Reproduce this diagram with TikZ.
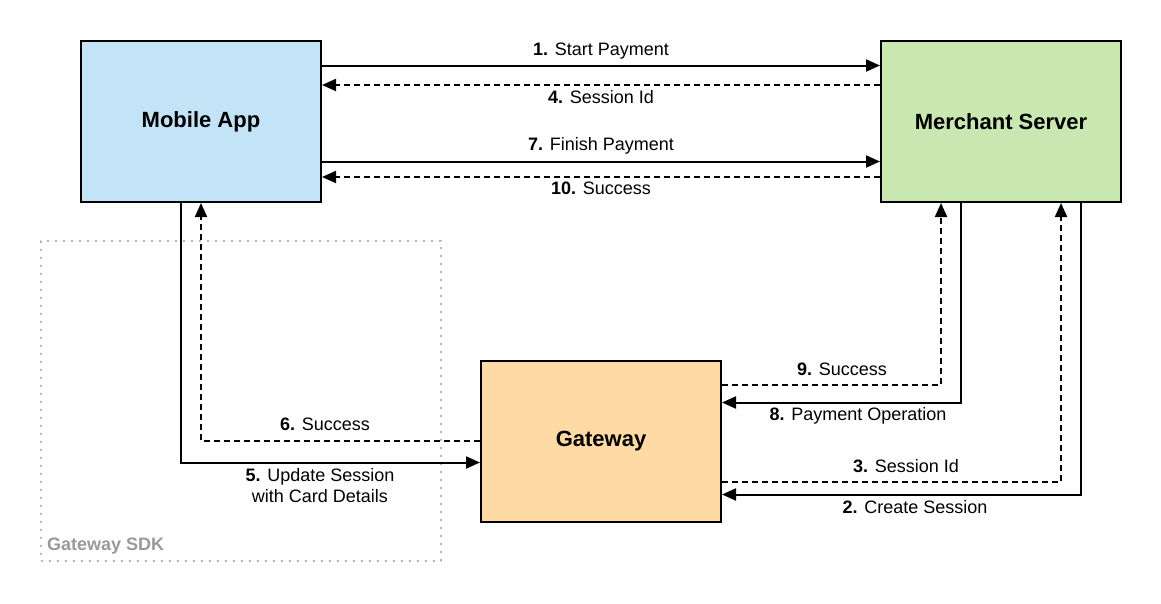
\documentclass[tikz,border=0pt]{standalone}
\usepackage{fontspec}
\setmainfont{Liberation Sans}
\usepackage{tikz}
\usetikzlibrary{arrows.meta}
\usetikzlibrary{calc}
\definecolor{appblue}{HTML}{C2E4F6}
\definecolor{servergreen}{HTML}{C9E7B0}
\definecolor{gwayorange}{HTML}{FFDAA5}
\definecolor{sdkgray}{HTML}{999999}
\tikzset{box/.style={draw, line width=2pt, minimum width=240pt, minimum height=161pt, font=\fontsize{22}{22}\selectfont\bfseries}}
\tikzset{l/.style={anchor=base, inner sep=0pt, font=\fontsize{18}{21}\selectfont}}
\tikzset{msg/.style={line width=2pt, -{Triangle[length=14pt,width=12pt]}}}
\tikzset{rsp/.style={msg, dash pattern=on 6pt off 4pt}}

\begin{document}
\begin{tikzpicture}[x=1pt, y=-1pt]
        \useasboundingbox (0,0) rectangle (1161,603);
        % sdk area
        \node (sdk) at (241,401) [draw=sdkgray!70, line width=2pt, dash pattern=on 2pt off 6pt,
          minimum width=400pt, minimum height=320pt] {};
        \node (sdklabel) at (47,550.7) [l, anchor=base west, text=sdkgray, font=\fontsize{18}{18}\selectfont\bfseries] {Gateway SDK};

        \node (app) at (201,121.5) [box, fill=appblue] {Mobile App};
        \node (server) at (1001,121.5) [box, fill=servergreen] {Merchant Server};
        \node (gway) at (601,441.5) [box, fill=gwayorange] {Gateway};

        % app <-> server
        \draw [msg] (app.east |- 0,65.5) -- (server.west |- 0,65.5);
        \node (l1) at (601,55.5) [l] {\textbf{1.} Start Payment};
        \draw [rsp] (server.west |- 0,85) -- (app.east |- 0,85);
        \node (l4) at (601,103) [l] {\textbf{4.} Session Id};
        \draw [msg] (app.east |- 0,161.5) -- (server.west |- 0,161.5);
        \node (l7) at (601,150.5) [l] {\textbf{7.} Finish Payment};
        \draw [rsp] (server.west |- 0,177) -- (app.east |- 0,177);
        \node (l10) at (601,194.5) [l] {\textbf{10.} Success};

        % app <-> gateway
        \draw [msg] (app.south -| 181,0) |- (gway.west |- 0,462.5);
        \node (l5) at (320,502.7) [l, align=center] {\textbf{5.} Update Session\\with Card Details};
        \draw [rsp] (gway.west |- 0,441) -| (app.south -| 201,0);
        \node (l6) at (325,430.7) [l] {\textbf{6.} Success};

        % server <-> gateway
        \draw [msg] (server.south -| 1081,0) |- (gway.east |- 0,494.5);
        \node (l2) at (915,513.3) [l] {\textbf{2.} Create Session};
        \draw [rsp] (gway.east |- 0,482) -| (server.south -| 1061,0);
        \node (l3) at (906,472.3) [l] {\textbf{3.} Session Id};
        \draw [msg] (server.south -| 961,0) |- (gway.east |- 0,402.5);
        \node (l8) at (858,420.7) [l] {\textbf{8.} Payment Operation};
        \draw [rsp] (gway.east |- 0,384.5) -| (server.south -| 941,0);
        \node (l9) at (842,375) [l] {\textbf{9.} Success};
      \end{tikzpicture}
\end{document}
